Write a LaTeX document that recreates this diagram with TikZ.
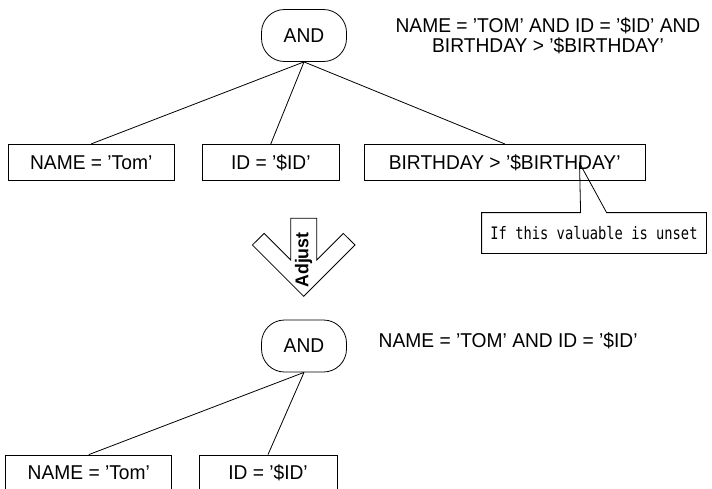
\documentclass[tikz,border=0pt]{standalone}
\usepackage{fontspec}
\setmainfont{Liberation Sans}[FakeStretch=0.96]
\newfontfamily\notefont[FakeStretch=0.8]{DejaVu Sans Mono}
\usetikzlibrary{calc}

\tikzset{
  andnode/.style={draw, rounded corners=23pt, minimum width=85pt, minimum height=52pt, inner sep=0pt, font=\fontsize{20}{21}\selectfont},
  cond/.style={draw, minimum height=36.4pt, inner sep=0pt, font=\fontsize{20}{21}\selectfont},
  query/.style={align=center, font=\fontsize{20}{19.5}\selectfont}
}

\begin{document}
\begin{tikzpicture}[x=1pt, y=-1pt, line width=0.8pt]
\clip (0,0) rectangle (712,488);
% before
\node[andnode] (and1) at (304,35.5) {AND};
\node[query] (q1) at (548,36) {NAME = 'TOM' AND ID = '\$ID' AND\\BIRTHDAY > '\$BIRTHDAY'};
\node[cond, minimum width=166pt] (name1) at (91.2,162.5) {NAME = 'Tom'};
\node[cond, minimum width=137pt] (id1) at (270.8,162.5) {ID = '\$ID'};
\node[cond, minimum width=281pt] (bday1) at (504.7,162.5) {BIRTHDAY > '\$BIRTHDAY'};
\draw (and1.south) -- (name1.north);
\draw (and1.south) -- (id1.north);
\draw (and1.south) -- (bday1.north);
% note on the unset variable
\node[minimum width=224pt, minimum height=40pt, inner sep=0pt, font=\notefont\fontsize{17.2}{18}\selectfont] (note) at (594,233) {If this valuable is unset};
\coordinate (tip) at (579.5,163);
\draw ([xshift=99pt]note.north west) -- (tip) -- ([xshift=125pt]note.north west) -- (note.north east) |- (note.south west) -- (note.north west) -- cycle;
% adjust arrow
\draw[fill=white] (290.7,218.3) -- (316.7,218.3) -- (316.7,260) -- (343.3,233.4) -- (355,245) -- (303.7,296.3) -- (252.4,245) -- (264.1,233.4) -- (290.7,260) -- cycle;
\node[rotate=90, font=\bfseries\fontsize{18.5}{18}\selectfont] (adjust) at (303.5,260) {Adjust};
% after
\node[andnode] (and2) at (304,346) {AND};
\node[query, anchor=base west] (q2) at (375,347) {NAME = 'TOM' AND ID = '\$ID'};
\node[cond, minimum width=166pt] (name2) at (88.8,473.2) {NAME = 'Tom'};
\node[cond, minimum width=138pt] (id2) at (268,473.2) {ID = '\$ID'};
\draw (and2.south) -- (name2.north);
\draw (and2.south) -- (id2.north);
\end{tikzpicture}
\end{document}
